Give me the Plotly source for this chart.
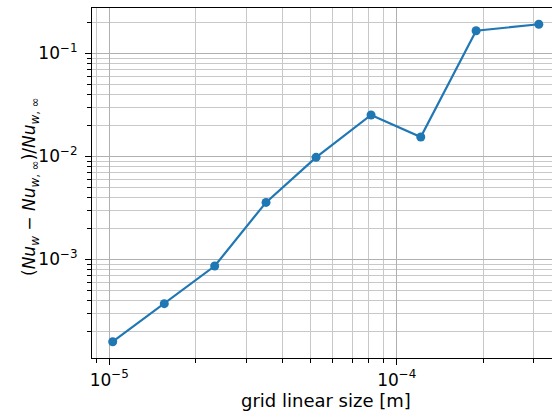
import numpy as np
import plotly.graph_objects as go

# Data
grid_size = [1.028e-5, 1.554e-5, 2.327e-5, 3.51e-5, 5.24e-5, 8.14e-5, 1.212e-4, 1.888e-4, 3.12e-4]
rel_error = [1.585e-4, 3.71e-4, 8.61e-4, 3.57e-3, 9.78e-3, 2.52e-2, 1.54e-2, 0.1656, 0.1915]

x_major = [1e-5, 1e-4]
x_major_text = ["10<sup>−5</sup>", "10<sup>−4</sup>"]
y_major = [1e-3, 1e-2, 1e-1]
y_major_text = ["10<sup>−3</sup>", "10<sup>−2</sup>", "10<sup>−1</sup>"]

x_minor = [m * 10.0 ** e for e in (-6, -5, -4) for m in range(2, 10)]
y_minor = [m * 10.0 ** e for e in (-4, -3, -2, -1) for m in range(2, 10)]

x_title = "grid linear size [m]"
y_title = ("(<i>Nu</i><sub><i>w</i></sub> − <i>Nu</i><sub><i>w</i>, ∞</sub>)"
           "/<i>Nu</i><sub><i>w</i>, ∞</sub>")

FONT = "DejaVu Sans"
C0 = "#1f77b4"

fig = go.Figure()
fig.add_trace(go.Scatter(
    x=grid_size, y=rel_error, mode="lines+markers",
    line=dict(color=C0, width=2.2),
    marker=dict(color=C0, size=9),
    showlegend=False,
))

axis_common = dict(
    type="log",
    automargin=False,
    showgrid=True, gridcolor="#b0b0b0", gridwidth=1.2,
    showline=True, linecolor="black", linewidth=1.2,
    ticks="outside", ticklen=6, tickwidth=1.2, tickcolor="black",
    tickfont=dict(family=FONT, size=17, color="black"),
    zeroline=False,
)

fig.update_layout(
    width=552, height=413,
    margin=dict(l=92, r=0, t=8, b=55),
    paper_bgcolor="white", plot_bgcolor="white",
    font=dict(family=FONT, size=17, color="black"),
    xaxis=dict(
        **axis_common,
        range=[-5.060, -3.46],
        tickmode="array", tickvals=x_major, ticktext=x_major_text,
        mirror=True,
        minor=dict(tickmode="array", tickvals=x_minor, ticks="outside", ticklen=3.5,
                   tickwidth=1, tickcolor="black", showgrid=True,
                   gridcolor="#c8c8c8", gridwidth=1.2),
    ),
    yaxis=dict(
        **axis_common,
        range=[-3.958, -0.56],
        tickmode="array", tickvals=y_major, ticktext=y_major_text,
        ticklabelstandoff=4,
        minor=dict(tickmode="array", tickvals=y_minor, ticks="outside", ticklen=3.5,
                   tickwidth=1, tickcolor="black", showgrid=True,
                   gridcolor="#c8c8c8", gridwidth=1.2),
    ),
    annotations=[
        dict(text=x_title, xref="paper", yref="paper", x=0.5087, y=-0.12,
             xanchor="center", yanchor="middle", showarrow=False,
             font=dict(family=FONT, size=18, color="black")),
        dict(text=y_title, xref="paper", yref="paper", x=-0.1326, y=0.4886,
             xanchor="center", yanchor="middle", showarrow=False, textangle=-90,
             font=dict(family=FONT, size=17, color="black")),
    ],
)

fig.write_html("out.html", config={"displayModeBar": False},
               post_script="document.body.style.margin='0';")
